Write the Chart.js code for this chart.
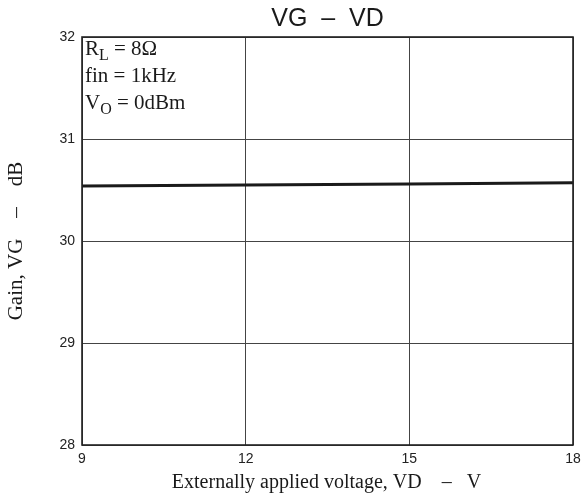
<!DOCTYPE html>
<html>
<head>
<meta charset="utf-8">
<script src="https://cdn.jsdelivr.net/npm/chart.js@4/dist/chart.umd.min.js"></script>
<style>
  html, body { margin: 0; padding: 0; background: #fff; }
  #chart { display: block; }
</style>
</head>
<body>
<canvas id="chart" width="584" height="497"></canvas>
<script>
// data
const voltages = [9, 12, 15, 18];
const gains = [30.54, 30.55, 30.56, 30.57];
const xTicks = [9, 12, 15, 18];
const yTicks = [28, 29, 30, 31, 32];

const chartTitle = 'VG  \u2013  VD';
const xTitle = 'Externally applied voltage, VD    \u2013   V';
const yTitle = 'Gain, VG    \u2013    dB';

// the three condition lines in the top-left corner, [main, subscript, rest]
const notes = [
  ['R', 'L', ' = 8\u03A9'],
  ['fin = 1kHz', '', ''],
  ['V', 'O', ' = 0dBm']
];

const serif = '"Liberation Serif", "Times New Roman", serif';
const sans = '"Liberation Sans", Arial, sans-serif';

const extras = {
  id: 'extras',
  afterDraw(chart) {
    const ctx = chart.ctx;
    const a = chart.chartArea;
    const mid = (a.left + a.right) / 2;
    ctx.save();
    // frame
    ctx.strokeStyle = '#222';
    ctx.lineWidth = 1.6;
    ctx.strokeRect(a.left, a.top, a.right - a.left, a.bottom - a.top);

    ctx.fillStyle = '#1a1a1a';
    ctx.textBaseline = 'alphabetic';

    // title
    ctx.font = '25px ' + sans;
    ctx.textAlign = 'center';
    ctx.fillText(chartTitle, mid, 26);

    // x axis title
    ctx.font = '20px ' + serif;
    ctx.fillText(xTitle, mid - 1, 488);

    // y axis title
    ctx.save();
    ctx.translate(22, (a.top + a.bottom) / 2);
    ctx.rotate(-Math.PI / 2);
    ctx.font = '21px ' + serif;
    ctx.fillText(yTitle, 0, 0);
    ctx.restore();

    // notes
    ctx.textAlign = 'left';
    let y = a.top + 18;
    notes.forEach(function(n) {
      let x = a.left + 3;
      ctx.font = '21px ' + serif;
      ctx.fillText(n[0], x, y);
      x += ctx.measureText(n[0]).width;
      if (n[1]) {
        ctx.font = '16px ' + serif;
        ctx.fillText(n[1], x, y + 5);
        x += ctx.measureText(n[1]).width;
      }
      ctx.font = '21px ' + serif;
      ctx.fillText(n[2], x, y);
      y += 27;
    });
    ctx.restore();
  }
};

new Chart(document.getElementById('chart').getContext('2d'), {
  type: 'line',
  data: {
    datasets: [{
      data: voltages.map(function(v, i) { return { x: v, y: gains[i] }; }),
      borderColor: '#1a1a1a',
      borderWidth: 3,
      pointRadius: 0,
      tension: 0,
      fill: false
    }]
  },
  plugins: [extras],
  options: {
    responsive: false,
    animation: false,
    layout: { padding: { top: 37, right: 11, left: 0, bottom: 0 } },
    plugins: {
      legend: { display: false },
      tooltip: { enabled: false },
      title: { display: false }
    },
    scales: {
      x: {
        type: 'linear',
        min: 9,
        max: 18,
        afterBuildTicks: function(scale) { scale.ticks = xTicks.map(function(v) { return { value: v }; }); },
        afterFit: function(scale) { scale.height = 52; scale.paddingRight = 0; },
        grid: { color: '#444', lineWidth: 1, drawTicks: false },
        border: { display: false },
        ticks: { color: '#222', font: { family: sans, size: 14 }, padding: 6, maxRotation: 0 }
      },
      y: {
        min: 28,
        max: 32,
        afterBuildTicks: function(scale) { scale.ticks = yTicks.map(function(v) { return { value: v }; }); },
        afterFit: function(scale) { scale.width = 82; },
        grid: { color: '#444', lineWidth: 1, drawTicks: false },
        border: { display: false },
        ticks: { color: '#222', font: { family: sans, size: 14 }, padding: 7 }
      }
    }
  }
});
</script>
</body>
</html>
